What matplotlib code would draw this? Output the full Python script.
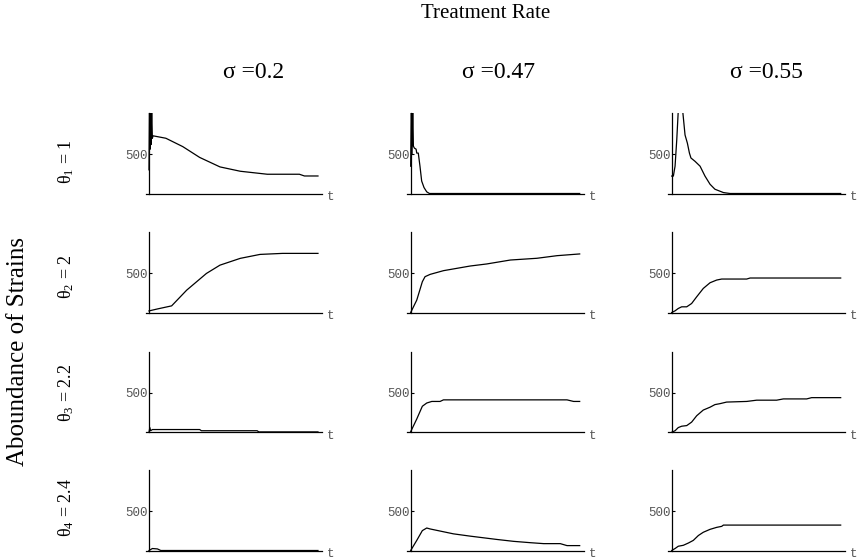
import matplotlib.pyplot as plt

plt.rcParams['font.family'] = 'Liberation Serif'
plt.rcParams['mathtext.default'] = 'regular'

# Abundance of strain i over time, for each treatment rate sigma
# sigma = 0.2
t_a1 = [0, 0.3, 0.6, 0.9, 1.2, 1.6, 2.0, 2.4, 10, 20, 30, 42, 54, 70, 89, 92, 100]
n_a1 = [300, 1150, 560, 1200, 620, 1100, 700, 731, 700, 594, 457, 337, 282, 244, 244, 222, 222]
t_a2 = [0, 5, 13.4, 22.3, 34, 42, 54, 65.7, 79, 100]
n_a2 = [20, 45, 84, 283, 495, 600, 686, 736, 749, 749]
t_a3 = [0, 0.5, 1.0, 2.0, 30, 31, 64, 65, 100]
n_a3 = [0, 60, 20, 35, 35, 20, 20, 5, 5]
t_a4 = [0, 2, 5, 7, 100]
n_a4 = [0, 25, 20, 0, 0]

# sigma = 0.47
t_b1 = [0, 0.4, 0.8, 1.2, 1.6, 2.2, 3.2, 3.6, 4.5, 5.5, 6.5, 7.9, 9.5, 11.1, 100]
n_b1 = [346, 1200, 500, 1150, 600, 575, 562, 512, 512, 346, 158, 75, 21, 0, 0]
t_b2 = [0, 3.6, 6.9, 8.5, 11.5, 19.4, 35.2, 45, 59, 74.7, 86.6, 100]
n_b2 = [0, 157, 390, 454, 483, 530, 589, 615, 665, 687, 720, 742]
t_b3 = [0, 3.6, 6.9, 9.5, 12.5, 17.4, 19.4, 92.5, 96.4, 100]
n_b3 = [8, 169, 330, 371, 391, 391, 411, 411, 391, 391]
t_b4 = [0, 3.6, 6.9, 9.5, 11.5, 25.3, 35.2, 51, 60.9, 70.8, 78.7, 88.5, 92.5, 100]
n_b4 = [0, 128, 252, 285, 273, 211, 182, 140, 116, 99, 87, 87, 62, 62]

# sigma = 0.55
t_c1 = [0, 1, 2, 3, 3.9, 5.1, 6.5, 7.9, 9.3, 10.5, 11.4, 13.8, 16.8, 19.7, 22.7, 25.6, 30.6, 34.5, 100]
n_c1 = [221, 221, 346, 679, 1050, 1400, 1050, 742, 637, 512, 450, 408, 346, 221, 117, 54, 12, 0, 0]
t_c2 = [0, 2, 3.9, 5.9, 8.9, 11.8, 14.8, 18.7, 22.7, 26.6, 29.6, 32.5, 44.4, 46.4, 100]
n_c2 = [0, 21, 51, 72, 72, 114, 199, 305, 377, 411, 424, 424, 424, 437, 437]
t_c3 = [0, 2, 3.9, 5.9, 8.9, 11.8, 14.8, 18.7, 22.7, 25.6, 28.6, 32.5, 44.4, 50.3, 62.1, 66.1, 79.9, 82.8, 100]
n_c3 = [0, 20, 60, 77, 85, 129, 210, 282, 318, 351, 363, 383, 391, 407, 407, 423, 423, 439, 439]
t_c4 = [0, 2, 3.9, 6.9, 9.9, 12.8, 15.8, 18.7, 22.7, 26.6, 29.6, 30.6, 100]
n_c4 = [0, 25, 54, 66, 95, 128, 190, 231, 268, 293, 306, 322, 322]

sigmas = ['0.2', '0.47', '0.55']
theta_labels = [r'θ$_1$ = 1', r'θ$_2$ = 2', r'θ$_3$ = 2.2', r'θ$_4$ = 2.4']

series = [
    [(t_a1, n_a1), (t_b1, n_b1), (t_c1, n_c1)],
    [(t_a2, n_a2), (t_b2, n_b2), (t_c2, n_c2)],
    [(t_a3, n_a3), (t_b3, n_b3), (t_c3, n_c3)],
    [(t_a4, n_a4), (t_b4, n_b4), (t_c4, n_c4)],
]

W, H = 858, 559
fig = plt.figure(figsize=(W / 100, H / 100), dpi=100)

# panel placement in pixels
col_left = [145.6, 407.3, 668.3]
row_bottom = [193.5, 312.5, 432.3, 550.5]
ax_w, ax_h = 176.6, 80.5
header_x = [254, 498, 766]
label_y = [162, 277, 393, 508]

mono = 'Liberation Mono'
grey = '#555555'

for r in range(4):
    for c in range(3):
        ax = fig.add_axes([col_left[c] / W, 1 - row_bottom[r] / H, ax_w / W, ax_h / H])
        t, n = series[r][c]
        ax.plot(t, n, color='black', lw=0.9)
        ax.set_xlim(-2, 102.5)
        ax.set_ylim(0, 1020)
        for s in ['top', 'right']:
            ax.spines[s].set_visible(False)
        ax.spines['left'].set_position(('data', 0))
        ax.spines['left'].set_linewidth(0.9)
        ax.spines['bottom'].set_linewidth(0.9)
        ax.set_xticks([])
        ax.set_yticks([500])
        ax.set_yticklabels(['500'], family=mono, fontsize=9, color=grey)
        ax.tick_params(axis='y', direction='in', length=2, width=0.8, pad=1)
        ax.text(1.028, -0.04, 't', transform=ax.transAxes, ha='left', va='center',
                family=mono, fontsize=9, color=grey)
        ax.patch.set_visible(False)

# column headers
for c, s in enumerate(sigmas):
    fig.text(header_x[c] / W, 1 - 72 / H, 'σ =' + s, ha='center', va='center', fontsize=17)

fig.text(486 / W, 1 - 13 / H, 'Treatment Rate', ha='center', va='center', fontsize=15)

# row labels
for r, lab in enumerate(theta_labels):
    fig.text(66 / W, 1 - label_y[r] / H, lab, ha='center', va='center', rotation=90, fontsize=13)

fig.text(18 / W, 1 - 352 / H, 'Aboundance of Strains', ha='center', va='center', rotation=90,
         fontsize=18)

plt.savefig('out.png', dpi=100)
